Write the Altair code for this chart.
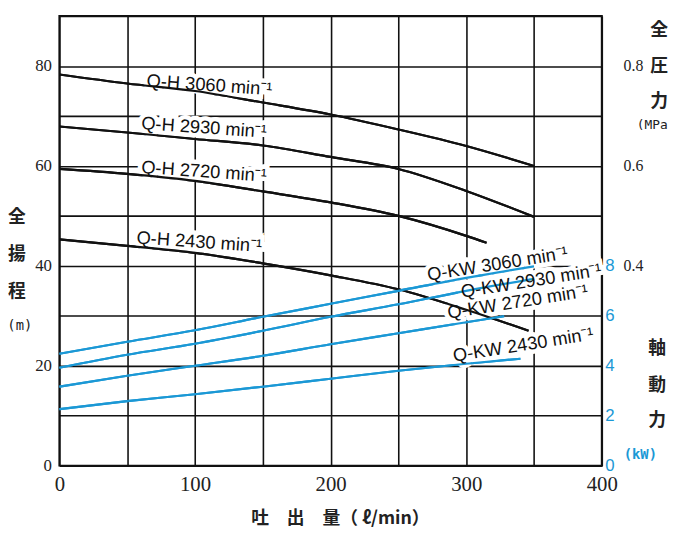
import altair as alt
import pandas as pd

# ---------------- data ----------------
flow_std = [0, 50, 100, 150, 200, 250, 300, 350]
flow_2720 = [0, 50, 100, 150, 200, 250, 300, 315]
flow_2430h = [0, 50, 100, 150, 200, 250, 300, 346]

head_3060 = [78.3, 76.5, 75.0, 72.7, 70.3, 67.3, 64.0, 60.0]
head_2930 = [67.9, 66.7, 65.4, 64.1, 61.8, 59.4, 55.0, 49.8]
head_2720 = [59.4, 58.4, 57.0, 54.9, 52.7, 50.0, 46.0, 44.6]
head_2430 = [45.3, 44.0, 42.6, 40.5, 38.1, 35.3, 31.2, 27.0]

flow_kw_2720 = [0, 50, 100, 150, 200, 250, 300, 328]
flow_kw_2430 = [0, 50, 100, 150, 200, 250, 300, 340]
kw_3060 = [4.48, 4.96, 5.42, 5.96, 6.48, 7.00, 7.52, 7.98]
kw_2930 = [3.92, 4.44, 4.88, 5.40, 5.96, 6.46, 7.00, 7.48]
kw_2720 = [3.16, 3.60, 4.00, 4.40, 4.86, 5.30, 5.74, 5.98]
kw_2430 = [2.26, 2.58, 2.86, 3.16, 3.48, 3.80, 4.08, 4.28]

qh_labels = ["Q-H 3060 min⁻¹", "Q-H 2930 min⁻¹", "Q-H 2720 min⁻¹", "Q-H 2430 min⁻¹"]
qh_label_q = [110.7, 106.7, 106.7, 103.2]
qh_label_h = [76.2, 67.7, 58.9, 44.8]

kw_labels = ["Q-KW 3060 min⁻¹", "Q-KW 2930 min⁻¹", "Q-KW 2720 min⁻¹", "Q-KW 2430 min⁻¹"]
kw_label_q = [323, 348, 338, 342]
kw_label_v = [8.08, 7.40, 6.56, 4.84]

mpa_vals = [40, 60, 80]
mpa_text = ["0.4", "0.6", "0.8"]

x_ticks = [0, 50, 100, 150, 200, 250, 300, 350, 400]
y_ticks = [0, 10, 20, 30, 40, 50, 60, 70, 80, 90]
kw_ticks = [0, 2, 4, 6, 8]

BLUE = "#1b98d5"
INK = "#111111"

# ---------------- tables ----------------
def long(name, qs, vs):
    return pd.DataFrame({"q": qs, "v": vs, "s": [name] * len(qs)})

df_h = pd.concat([
    long("3060", flow_std, head_3060),
    long("2930", flow_std, head_2930),
    long("2720", flow_2720, head_2720),
    long("2430", flow_2430h, head_2430),
])
df_kw = pd.concat([
    long("3060", flow_std, kw_3060),
    long("2930", flow_std, kw_2930),
    long("2720", flow_kw_2720, kw_2720),
    long("2430", flow_kw_2430, kw_2430),
])
df_hl = pd.DataFrame({"t": qh_labels, "q": qh_label_q, "v": qh_label_h})
df_kl = pd.DataFrame({"t": kw_labels, "q": kw_label_q, "v": kw_label_v})
df_mpa = pd.DataFrame({"t": mpa_text, "v": mpa_vals})

xs = alt.Scale(domain=[0, 400], nice=False, zero=False)
ys_m = alt.Scale(domain=[0, 90], nice=False, zero=False)
ys_kw = alt.Scale(domain=[0, 18], nice=False, zero=False)

x_axis = alt.Axis(
    values=x_ticks,
    labelExpr="datum.value % 100 == 0 ? datum.label : ''",
    grid=True, gridColor=INK, gridWidth=1.6, gridOpacity=1,
    ticks=False, domain=False,
    labelFont="Liberation Serif", labelFontSize=21, labelColor="#222",
    labelPadding=8, labelFlush=False,
    title="吐　出　量（ ℓ/min）", titleFont="Noto Sans CJK JP",
    titleFontSize=18, titleFontWeight="bold", titleColor="#222",
    titleY=54, titleX=284, titleAlign="center", titleBaseline="middle",
)
y_axis = alt.Axis(
    values=y_ticks,
    labelExpr="datum.value % 20 == 0 ? datum.label : ''",
    grid=True, gridColor=INK, gridWidth=1.6, gridOpacity=1,
    ticks=False, domain=False,
    labelFont="Liberation Serif", labelFontSize=17, labelColor="#222",
    labelPadding=8, title=None,
)
kw_axis = alt.Axis(
    orient="right", values=kw_ticks, grid=False, ticks=False, domain=False,
    labelFont="Liberation Sans", labelFontSize=17, labelColor=BLUE,
    labelPadding=3, title=None,
)

# lines
qh_lines = alt.Chart(df_h).mark_line(color=INK, strokeWidth=2.2, interpolate="monotone").encode(
    x=alt.X("q:Q", scale=xs, axis=x_axis),
    y=alt.Y("v:Q", scale=ys_m, axis=y_axis),
    detail="s:N",
)
kw_lines = alt.Chart(df_kw).mark_line(color=BLUE, strokeWidth=2.2, interpolate="monotone").encode(
    x=alt.X("q:Q", scale=xs),
    y=alt.Y("v:Q", scale=ys_kw, axis=kw_axis),
    detail="s:N",
)

txt_common = dict(font="Liberation Sans", fontSize=18.5, align="center", baseline="middle")

qh_halo = alt.Chart(df_hl).mark_text(color="white", stroke="white", strokeWidth=9, angle=4, **txt_common).encode(
    x=alt.X("q:Q", scale=xs), y=alt.Y("v:Q", scale=ys_m, axis=None), text="t:N")
kw_halo = alt.Chart(df_kl).mark_text(color="white", stroke="white", strokeWidth=9, angle=351, **txt_common).encode(
    x=alt.X("q:Q", scale=xs), y=alt.Y("v:Q", scale=ys_kw, axis=None), text="t:N")
qh_text = alt.Chart(df_hl).mark_text(color=INK, angle=4, **txt_common).encode(
    x=alt.X("q:Q", scale=xs), y=alt.Y("v:Q", scale=ys_m, axis=None), text="t:N")
kw_text = alt.Chart(df_kl).mark_text(color=INK, angle=351, **txt_common).encode(
    x=alt.X("q:Q", scale=xs), y=alt.Y("v:Q", scale=ys_kw, axis=None), text="t:N")

mpa_text_layer = alt.Chart(df_mpa).mark_text(
    font="Liberation Serif", fontSize=16, color="#222", align="center", baseline="middle"
).encode(x=alt.value(581), y=alt.Y("v:Q", scale=ys_m, axis=None), text="t:N")

# stacked axis titles (one character per line)
side_text = ["全", "揚", "程", "(m)",
             "全", "圧", "力", "(MPa)",
             "軸", "動", "力", "(kW)"]
side_px = [-43, -43, -43, -40,
           607, 607, 607, 604,
           605, 605, 605, 588]
side_py = [204, 242, 279, 314,
           15, 52, 87, 110,
           337, 374, 410, 444]
side_size = [18, 18, 18, 14,
             18, 18, 18, 13,
             18, 18, 18, 14]
side_color = ["#222"] * 11 + [BLUE]
side_font = (["Noto Sans CJK JP"] * 3 + ["DejaVu Sans Mono"]) * 3
side_weight = ["bold"] * 3 + ["normal"] + ["bold"] * 3 + ["normal"] + ["bold"] * 3 + ["bold"]

side_layers = []
for t, px, py, sz, c, f, w in zip(side_text, side_px, side_py, side_size, side_color, side_font, side_weight):
    side_layers.append(
        alt.Chart(pd.DataFrame({"t": [t]})).mark_text(
            font=f, fontSize=sz, color=c, fontWeight=w, align="center", baseline="middle"
        ).encode(x=alt.value(px), y=alt.value(py), text="t:N")
    )

chart = alt.layer(
    qh_lines, kw_lines, qh_halo, kw_halo,
    qh_lines.encode(y=alt.Y("v:Q", scale=ys_m, axis=None), x=alt.X("q:Q", scale=xs)),
    kw_lines.encode(y=alt.Y("v:Q", scale=ys_kw, axis=None)),
    qh_text, kw_text, mpa_text_layer, *side_layers,
).resolve_scale(y="independent").properties(
    width=549, height=455,
    padding={"left": 52, "top": 5, "right": 67, "bottom": 65},
    autosize=alt.AutoSizeParams(type="none"),
).configure_view(stroke="#111", strokeWidth=2)

chart.save("out.html", embed_options={"renderer": "svg", "actions": False})
